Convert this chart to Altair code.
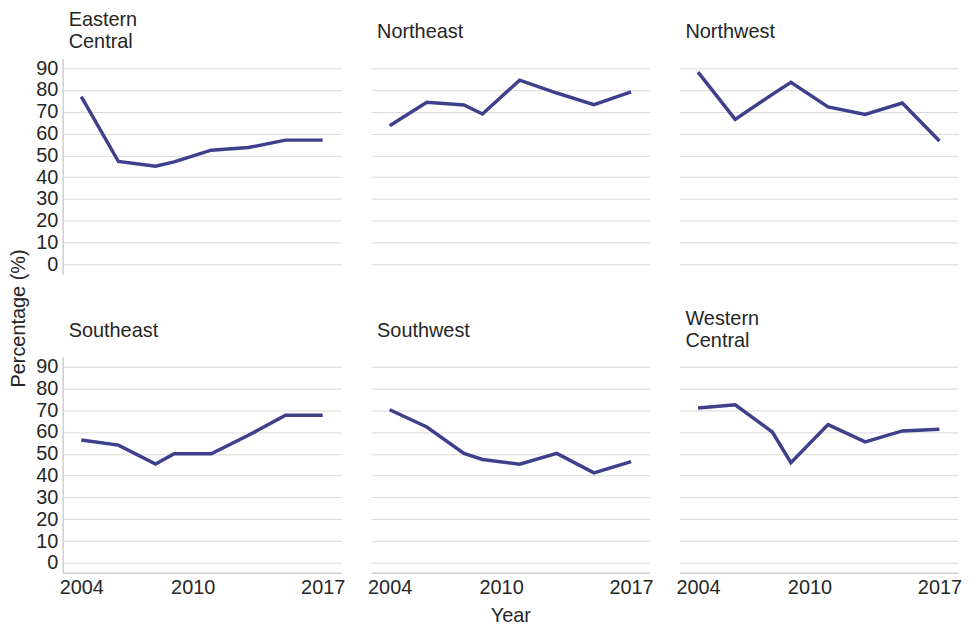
import altair as alt
import pandas as pd

years = [2004, 2006, 2008, 2009, 2011, 2013, 2015, 2017]
regions = ["Eastern Central", "Northeast", "Northwest", "Southeast", "Southwest", "Western Central"]
titles = [["Eastern", "Central"], "Northeast", "Northwest", "Southeast", "Southwest", ["Western", "Central"]]

eastern_central = [77, 47.2, 45, 47, 52.4, 53.6, 57, 57]
northeast = [63.6, 74.4, 73.1, 69, 84.5, 78.6, 73.3, 79.1]
northwest = [88.2, 66.5, 78, 83.5, 72.2, 68.8, 74, 56.6]
southeast = [56.3, 54, 45.3, 50, 50, 58.5, 67.7, 67.7]
southwest = [70.2, 62.3, 50.2, 47.4, 45.2, 50.2, 41.3, 46.4]
western_central = [71, 72.5, 60, 45.9, 63.4, 55.5, 60.5, 61.3]

series = [eastern_central, northeast, northwest, southeast, southwest, western_central]

x_ticks = [2004, 2010, 2017]
y_ticks = [0, 10, 20, 30, 40, 50, 60, 70, 80, 90]

FONT = "Liberation Sans"
FS = 20
LINE = "#3e408c"
GRID = "#d9d9d9"
TEXT = "#262626"


def panel(i):
    df = pd.DataFrame({"Year": years, "Value": series[i], "Region": regions[i]})
    col = i % 3
    row = i // 3
    show_y = col == 0
    show_x = row == 1
    x_axis = alt.Axis(
        values=x_ticks,
        format="d",
        labels=show_x,
        domain=show_x,
        ticks=False,
        grid=False,
        title="Year" if (show_x and col == 1) else None,
        labelFontSize=FS,
        titleFontSize=FS,
        titleFontWeight="normal",
        labelPadding=5,
        titlePadding=8,
        labelFlush=False,
    )
    y_kwargs = dict(
        values=y_ticks,
        labels=show_y,
        domain=show_y,
        ticks=False,
        grid=True,
        labelFontSize=FS,
        titleFontSize=FS,
        titleFontWeight="normal",
        labelPadding=5,
        titlePadding=7,
    )
    if show_y and row == 0:
        y_kwargs["title"] = "Percentage (%)"
        y_kwargs["titleY"] = 261
    else:
        y_kwargs["title"] = None
    y_axis = alt.Axis(**y_kwargs)
    two_line = isinstance(titles[i], list)
    return (
        alt.Chart(df)
        .mark_line(color=LINE, strokeWidth=3.5)
        .encode(
            x=alt.X("Year:Q", scale=alt.Scale(domain=[2003, 2018], nice=False, zero=False), axis=x_axis),
            y=alt.Y("Value:Q", scale=alt.Scale(domain=[-4.5, 94.5], nice=False, zero=False), axis=y_axis),
        )
        .properties(
            width=280,
            height=217,
            title=alt.TitleParams(
                text=titles[i],
                anchor="start",
                frame="group",
                offset=6 if two_line else 16,
                dx=6,
                fontSize=FS,
                fontWeight="normal",
                font=FONT,
                color=TEXT,
                lineHeight=22,
            ),
        )
    )


chart = (
    alt.concat(*[panel(i) for i in range(6)], columns=3, spacing=alt.RowColnumber(row=83, column=30), bounds="flush")
    .configure(font=FONT, padding={"left": 0, "top": 0, "right": 0, "bottom": 0})
    .configure_view(stroke=None)
    .configure_axis(
        labelFont=FONT,
        titleFont=FONT,
        labelColor=TEXT,
        titleColor=TEXT,
        gridColor=GRID,
        gridWidth=1,
        domainColor="#cfcfcf",
        domainWidth=1.5,
    )
)

chart.save("out.html", embed_options={"renderer": "svg", "actions": False})
